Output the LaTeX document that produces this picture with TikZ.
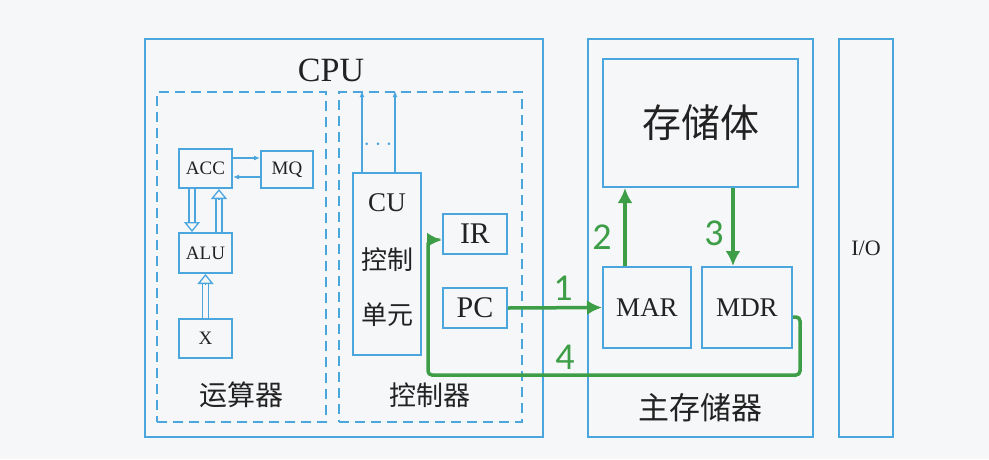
\documentclass[tikz,border=0pt]{standalone}
\usepackage{fontspec}
\setmainfont{Liberation Serif}
\newfontfamily\cjk{Noto Sans CJK SC}
\newfontfamily\numfont{Carlito}
\usetikzlibrary{arrows.meta,calc}
\definecolor{bgc}{HTML}{F6F7F9}
\definecolor{boxblue}{HTML}{4BA6DE}
\definecolor{arrgreen}{HTML}{3E9E48}
\definecolor{txt}{HTML}{222222}
\begin{document}
\begin{tikzpicture}[x=1pt,y=-1pt,
    blk/.style={draw=boxblue,line width=2pt,inner sep=0pt,text=txt},
    outer/.style={blk,line width=2.6pt},
    unit/.style={draw=boxblue,line width=2pt,dash pattern=on 10pt off 6pt,inner sep=0pt},
    bus/.style={draw=boxblue,line width=1.3pt,double=bgc,double distance=4.5pt,shorten >=9pt},
    bushead/.style={draw=boxblue,line width=1.3pt,-{Triangle[open,fill=bgc,length=10pt,width=16pt]}},
    sig/.style={draw=boxblue,line width=1.2pt,-{Latex[length=6pt,width=5pt]}},
    flow/.style={draw=arrgreen,line width=3.5pt,-{Latex[length=15pt,width=15pt]}},
    num/.style={text=arrgreen,font=\numfont\fontsize{38}{38}\selectfont}]
                \fill[bgc] (0,0) rectangle (989,459);
                \useasboundingbox (0,0) rectangle (989,459);

                %CPU
                \node[outer,minimum width=398pt,minimum height=398pt] (cpu) at (344,238) {};
                \node[text=txt,font=\fontsize{34}{34}\selectfont] (cpulab) at (331,70) {CPU};
                \node[unit,minimum width=169pt,minimum height=330pt] (calc) at (241.5,257) {};
                \node[unit,minimum width=183pt,minimum height=330pt] (ctrl) at (430.5,257) {};

                %运算器
                \node[blk,minimum width=53pt,minimum height=39pt,font=\fontsize{19}{19}\selectfont] (acc) at (205.5,168.5) {ACC};
                \node[blk,minimum width=52pt,minimum height=37pt,font=\fontsize{19}{19}\selectfont] (mq) at (287,169.5) {MQ};
                \node[blk,minimum width=53pt,minimum height=40pt,font=\fontsize{19}{19}\selectfont] (alu) at (205.5,253) {ALU};
                \node[blk,minimum width=53pt,minimum height=39pt,font=\fontsize{19}{19}\selectfont] (x) at (205.5,338.5) {X};
                \node[text=txt,font=\cjk\fontsize{28}{28}\selectfont] (calclab) at (241,395) {运算器};

                %控制器
                \node[blk,minimum width=68pt,minimum height=182pt] (cu) at (387,264) {};
                \node[text=txt,font=\fontsize{27}{27}\selectfont] (cutxt) at (387,203) {CU};
                \node[text=txt,font=\cjk\fontsize{26}{26}\selectfont] (cutxt2) at (387,260) {控制};
                \node[text=txt,font=\cjk\fontsize{26}{26}\selectfont] (cutxt3) at (387,315) {单元};
                \node[blk,minimum width=64pt,minimum height=40pt,font=\fontsize{30}{30}\selectfont] (ir) at (475,234) {IR};
                \node[blk,minimum width=64pt,minimum height=40pt,font=\fontsize{30}{30}\selectfont] (pc) at (475,308) {PC};
                \node[text=boxblue,font=\fontsize{24}{24}\selectfont] (dots) at (378,145) {$\cdots$};
                \node[text=txt,font=\cjk\fontsize{27}{27}\selectfont] (ctrllab) at (430,395) {控制器};

                %主存储器
                \node[outer,minimum width=225pt,minimum height=398pt] (mem) at (700.5,238) {};
                \node[blk,minimum width=195pt,minimum height=128pt,font=\cjk\fontsize{39}{39}\selectfont] (store) at (700.5,123) {存储体};
                \node[blk,minimum width=88pt,minimum height=81pt,font=\fontsize{27}{27}\selectfont] (mar) at (647,307.5) {MAR};
                \node[blk,minimum width=90pt,minimum height=81pt,font=\fontsize{27}{27}\selectfont] (mdr) at (747,307.5) {MDR};
                \node[text=txt,font=\cjk\fontsize{31}{31}\selectfont] (memlab) at (700,408) {主存储器};

                %I/O
                \node[outer,minimum width=54pt,minimum height=398pt] (io) at (866,238) {};
                \node[text=txt,font=\fontsize{22}{22}\selectfont] (iolab) at (866,248) {I/O};

                \draw[sig] ([yshift=10.5pt]acc.east) -- ([yshift=10.5pt]acc.east -| mq.west);
                \draw[sig] ([yshift=-8.5pt]acc.east -| mq.west) -- ([yshift=-8.5pt]acc.east);
                \coordinate (a1) at ([xshift=-13.5pt]acc.south);
                \coordinate (a2) at ([xshift=-13.5pt]alu.north);
                \coordinate (a3) at ([xshift=13.5pt]alu.north);
                \coordinate (a4) at ([xshift=13.5pt]acc.south);
                \draw[bus] (a1) -- (a2);
                \draw[bushead] ($(a2)!10pt!(a1)$) -- (a2);
                \draw[bus] (a3) -- (a4);
                \draw[bushead] ($(a4)!10pt!(a3)$) -- (a4);
                \draw[bus] (x.north) -- (alu.south);
                \draw[bushead] ($(alu.south)!10pt!(x.north)$) -- (alu.south);
                \draw[sig] ([xshift=10pt]cu.north west) -- ([xshift=10pt]cu.north west |- ctrl.north);
                \draw[sig] ([xshift=-27pt]cu.north east) -- ([xshift=-27pt]cu.north east |- ctrl.north);

                %1 2 3 4
                \coordinate (b4) at (428,375);
                \draw[flow] (pc.east) -- (mar.west);
                \draw[flow] ([xshift=-22pt]mar.north) -- ([xshift=-22pt]mar.north |- store.south);
                \draw[flow] ([xshift=-14pt]mdr.north |- store.south) -- ([xshift=-14pt]mdr.north);
                \draw[flow,rounded corners=4pt] ([yshift=-9.5pt]mdr.east) -| (b4 -| 800,0) -- (b4) |- ([yshift=-6pt]ir.west);
                \node[num] (n1) at (563,288) {1};
                \node[num] (n2) at (602,237) {2};
                \node[num] (n3) at (714,233) {3};
                \node[num] (n4) at (565,357) {4};
            \end{tikzpicture}
\end{document}
